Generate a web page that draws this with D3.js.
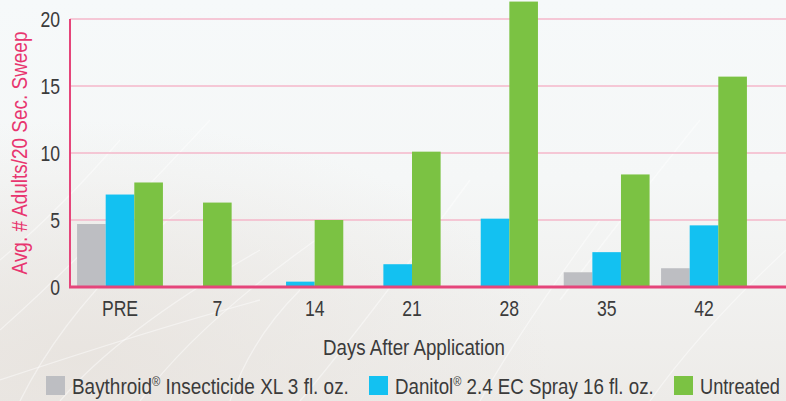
<!DOCTYPE html>
<html>
<head>
<meta charset="utf-8">
<script src="https://cdn.jsdelivr.net/npm/d3@7"></script>
<style>
  html, body { margin: 0; padding: 0; }
  body { width: 786px; height: 401px; overflow: hidden; }
  svg { display: block; font-family: "Liberation Sans", Arial, sans-serif; }
</style>
</head>
<body>
<svg id="chart" width="786" height="401"></svg>
<script>
var categories = ["PRE", "7", "14", "21", "28", "35", "42"];
var seriesNames = ["Baythroid\u00ae Insecticide XL 3 fl. oz.", "Danitol\u00ae 2.4 EC Spray 16 fl. oz.", "Untreated"];
var baythroid = [4.7, 0, 0, 0, 0, 1.1, 1.4];
var danitol = [6.9, 0, 0.4, 1.7, 5.1, 2.6, 4.6];
var untreated = [7.8, 6.3, 5.0, 10.1, 21.3, 8.4, 15.7];
var yTicks = [0, 5, 10, 15, 20];
var seriesColors = ["#bdbec2", "#13c1f1", "#7bc243"];

document.addEventListener('DOMContentLoaded', function() {
  drawChart();
});

// squeeze a text horizontally so it takes the given width (the original uses a condensed face)
function fitWidth(sel, x, y, target, rotate) {
  var w = sel.node().getComputedTextLength();
  var s = target / w;
  sel.attr("transform", "translate(" + x + "," + y + ")" + (rotate ? " rotate(" + rotate + ")" : "") + " scale(" + s + ",1)");
}

function drawChart() {
  var svg = d3.select('#chart');
  var width = 786, height = 401;
  var margin = { top: 19, right: 0, bottom: 114, left: 70 };
  var values = [baythroid, danitol, untreated];
  var textColor = "#3b3b3b";
  var squeeze = 0.8;
  var legendWidths = [277, 259, 80];

  // background
  var defs = svg.append("defs");
  var bg = defs.append("linearGradient")
      .attr("id", "bg")
      .attr("x1", 0).attr("y1", 0).attr("x2", 0).attr("y2", 1);
  bg.append("stop").attr("offset", "0%").attr("stop-color", "#f6f9fa");
  bg.append("stop").attr("offset", "45%").attr("stop-color", "#f5f7f7");
  bg.append("stop").attr("offset", "100%").attr("stop-color", "#edebe8");
  var warm = defs.append("radialGradient")
      .attr("id", "warm")
      .attr("cx", 0.1).attr("cy", 0.9).attr("r", 0.6);
  warm.append("stop").attr("offset", "0%").attr("stop-color", "#e7e2dd").attr("stop-opacity", 0.8);
  warm.append("stop").attr("offset", "100%").attr("stop-color", "#e7e2dd").attr("stop-opacity", 0);

  svg.append("rect").attr("width", width).attr("height", height).attr("fill", "url(#bg)");
  svg.append("rect").attr("width", width).attr("height", height).attr("fill", "url(#warm)");

  // a few light straw streaks
  var streaks = [
    "M0,330 Q90,250 210,120", "M20,401 Q70,300 180,210", "M60,401 Q120,330 260,250",
    "M0,260 Q60,210 120,140", "M140,401 Q200,320 330,230", "M300,401 Q360,330 470,180",
    "M480,401 Q520,330 600,220", "M0,380 Q150,330 260,300", "M230,401 Q250,340 300,290",
    "M560,300 Q620,220 700,120", "M650,401 Q700,330 786,250"
  ];
  svg.append("g")
    .selectAll("path")
    .data(streaks)
    .enter()
    .append("path")
      .attr("d", function(d) { return d; })
      .attr("fill", "none")
      .attr("stroke", "#ffffff")
      .attr("stroke-opacity", 0.45)
      .attr("stroke-width", 1.3);

  var y = d3.scaleLinear()
      .domain([0, 20])
      .range([height - margin.bottom, margin.top]);

  var x = d3.scalePoint()
      .domain(categories)
      .range([120, 704]);

  var barWidth = x.step() * 0.294;
  var color = d3.scaleOrdinal().domain(seriesNames).range(seriesColors);

  // gridlines
  svg.append("g")
    .selectAll("line")
    .data(yTicks.filter(function(d) { return d > 0; }))
    .enter()
    .append("line")
      .attr("x1", margin.left)
      .attr("x2", width)
      .attr("y1", function(d) { return y(d); })
      .attr("y2", function(d) { return y(d); })
      .attr("stroke", "#f4b7ca")
      .attr("stroke-width", 1.5);

  // bars, zero values are left out and the rest centered on the tick
  var groups = svg.append("g")
    .selectAll("g")
    .data(categories)
    .enter()
    .append("g");

  groups.each(function(cat, i) {
    var keys = seriesNames.filter(function(s, j) { return values[j][i] > 0; });
    var cx = x(cat);
    var inner = d3.scaleBand()
        .domain(keys)
        .range([cx - keys.length * barWidth / 2, cx + keys.length * barWidth / 2]);
    d3.select(this).selectAll("rect")
      .data(keys)
      .enter()
      .append("rect")
        .attr("x", function(k) { return inner(k); })
        .attr("width", inner.bandwidth())
        .attr("y", function(k) { return y(values[seriesNames.indexOf(k)][i]); })
        .attr("height", function(k) { return y(0) - y(values[seriesNames.indexOf(k)][i]); })
        .attr("fill", function(k) { return color(k); });
  });

  // axis lines
  svg.append("line")
      .attr("x1", margin.left).attr("x2", margin.left)
      .attr("y1", y(20)).attr("y2", y(0))
      .attr("stroke", "#e5457a").attr("stroke-width", 2);
  svg.append("line")
      .attr("x1", margin.left - 1).attr("x2", width)
      .attr("y1", y(0)).attr("y2", y(0))
      .attr("stroke", "#e5457a").attr("stroke-width", 3);

  // y tick labels
  svg.append("g")
    .selectAll("text")
    .data(yTicks)
    .enter()
    .append("text")
      .attr("transform", function(d) { return "translate(60," + y(d) + ") scale(" + squeeze + ",1)"; })
      .attr("dy", "0.36em")
      .attr("text-anchor", "end")
      .attr("font-size", 22)
      .attr("fill", textColor)
      .text(function(d) { return d; });

  // x tick labels
  svg.append("g")
    .selectAll("text")
    .data(categories)
    .enter()
    .append("text")
      .attr("transform", function(d) { return "translate(" + x(d) + ",316) scale(" + squeeze + ",1)"; })
      .attr("text-anchor", "middle")
      .attr("font-size", 22)
      .attr("fill", textColor)
      .text(function(d) { return d; });

  var xTitle = svg.append("text")
      .attr("text-anchor", "middle")
      .attr("font-size", 22)
      .attr("fill", textColor)
      .text("Days After Application");
  fitWidth(xTitle, 414, 355, 182);

  var yTitle = svg.append("text")
      .attr("text-anchor", "middle")
      .attr("font-size", 22)
      .attr("fill", "#e8356f")
      .text("Avg. # Adults/20 Sec. Sweep");
  fitWidth(yTitle, 27, 153, 243, -90);

  // legend
  var legendX = 46;
  seriesNames.forEach(function(name, i) {
    var item = svg.append("g").attr("transform", "translate(" + legendX + ",376)");
    item.append("rect")
      .attr("width", 19).attr("height", 19)
      .attr("fill", color(name));
    var label = item.append("text")
      .attr("font-size", 22)
      .attr("fill", textColor);
    var parts = name.split("\u00ae");
    label.append("tspan").text(parts[0]);
    if (parts.length > 1) {
      label.append("tspan")
        .attr("font-size", 13)
        .attr("dy", -8)
        .text("\u00ae");
      label.append("tspan")
        .attr("dy", 8)
        .text(parts[1]);
    }
    fitWidth(label, 26, 18, legendWidths[i]);
    legendX += 26 + legendWidths[i] + 20;
  });
}
</script>
</body>
</html>
